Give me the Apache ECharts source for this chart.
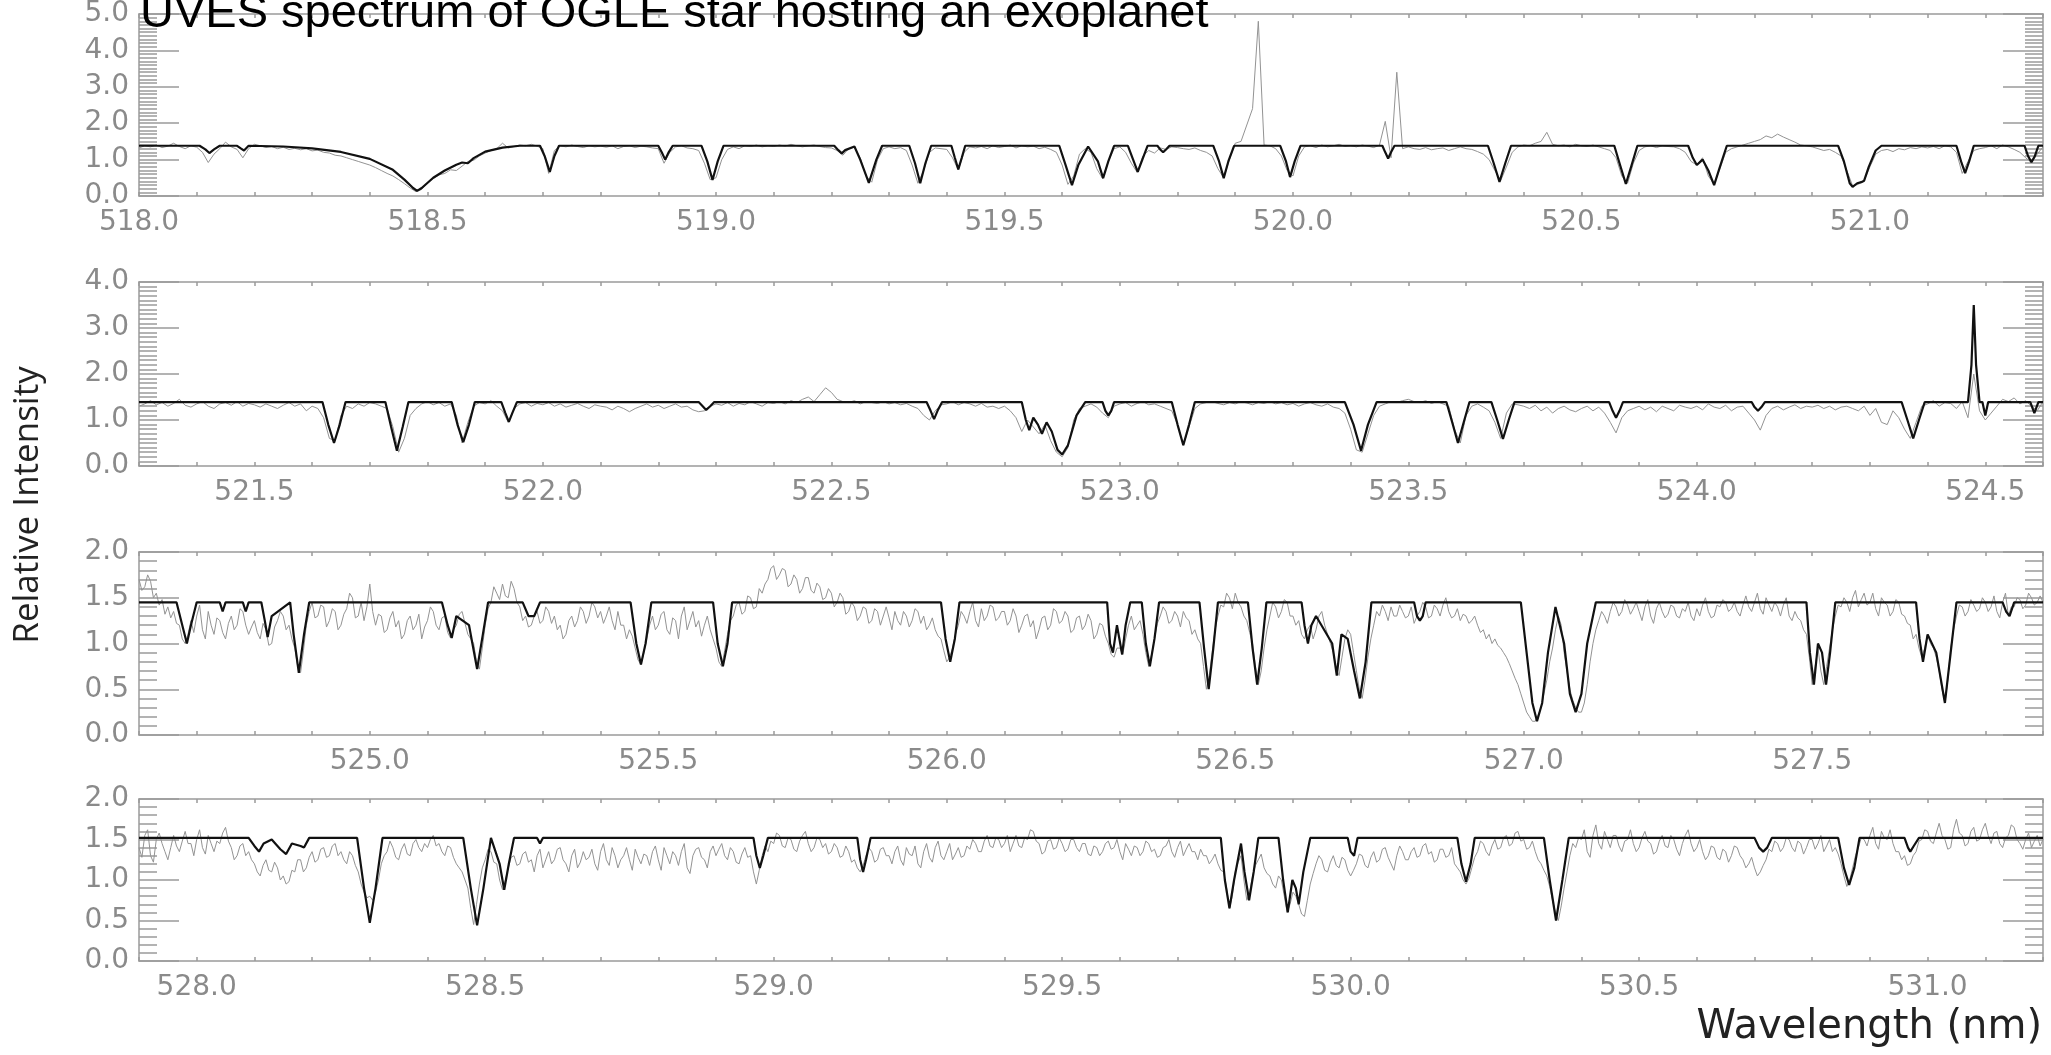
<!DOCTYPE html>
<html><head><meta charset="utf-8">
<script src="https://cdn.jsdelivr.net/npm/echarts@6/dist/echarts.min.js"></script>
<style>html,body{margin:0;padding:0;background:#fff}#c{width:2051px;height:1055px}</style>
</head><body><div id="c"></div>
<script>
const TITLE = 'UVES spectrum of OGLE star hosting an exoplanet';
const Y_NAME = 'Relative Intensity';
const X_NAME = 'Wavelength (nm)';
const X_RANGES = [[518.0,521.3],[521.3,524.6],[524.6,527.9],[527.9,531.2]];
const Y_MAX = [5,4,2,2];
const Y_INTERVAL = [1,1,0.5,0.5];
const OBS_STEPS = [0.01,0.01,0.005,0.005];

const OBS1 = [
1.32,1.38,1.35,1.40,1.33,1.37,1.45,1.36,1.30,1.38,
1.34,1.20,0.92,1.15,1.30,1.48,1.35,1.28,1.05,1.30,
1.42,1.38,1.33,1.36,1.30,1.34,1.28,1.31,1.27,1.30,
1.24,1.26,1.20,1.18,1.12,1.10,1.05,1.00,0.95,0.90,
0.85,0.78,0.70,0.62,0.55,0.45,0.34,0.22,0.12,0.18,
0.35,0.48,0.58,0.62,0.72,0.70,0.82,0.95,0.98,1.10,
1.18,1.25,1.30,1.45,1.32,1.36,1.40,1.38,1.42,1.37,
1.30,0.62,1.25,1.38,1.35,1.40,1.36,1.33,1.38,1.35,
1.37,1.34,1.38,1.30,1.36,1.38,1.33,1.37,1.35,1.32,
1.30,0.90,1.20,1.35,1.38,1.32,1.30,1.25,0.90,0.45,
0.50,1.00,1.28,1.35,1.30,1.38,1.36,1.40,1.35,1.38,
1.36,1.40,1.37,1.42,1.38,1.35,1.38,1.40,1.36,1.33,
1.32,1.25,1.12,1.30,1.34,1.05,0.55,0.38,1.00,1.30,
1.35,1.30,1.33,1.25,0.85,0.35,0.70,1.20,1.32,1.30,
1.28,1.05,0.72,1.20,1.35,1.32,1.36,1.30,1.38,1.33,
1.36,1.40,1.32,1.38,1.35,1.37,1.30,1.34,1.28,1.20,
0.85,0.32,0.55,1.15,1.30,1.20,0.75,0.48,0.95,1.30,
1.35,1.20,0.90,0.65,1.10,1.25,1.18,1.32,1.28,1.35,
1.33,1.30,1.28,1.32,1.25,1.20,1.10,0.75,0.50,1.00,
1.45,1.50,1.95,2.40,4.80,1.40,1.38,1.30,1.10,0.70,
0.55,1.10,1.35,1.38,1.33,1.40,1.35,1.38,1.42,1.36,
1.38,1.35,1.40,1.37,1.33,1.40,2.05,1.05,3.40,1.30,
1.35,1.30,1.28,1.33,1.27,1.30,1.32,1.25,1.30,1.35,
1.30,1.28,1.22,1.15,1.00,0.70,0.42,0.80,1.20,1.35,
1.40,1.38,1.45,1.50,1.75,1.42,1.38,1.40,1.35,1.42,
1.38,1.36,1.40,1.35,1.30,1.25,1.05,0.55,0.35,0.90,
1.25,1.35,1.38,1.33,1.38,1.36,1.35,1.30,1.20,0.95,
0.85,1.05,0.55,0.32,0.75,1.20,1.30,1.35,1.40,1.45,
1.50,1.55,1.65,1.60,1.70,1.62,1.55,1.48,1.40,1.38,
1.35,1.30,1.25,1.28,1.20,1.10,0.70,0.28,0.32,0.42,
0.80,1.15,1.25,1.28,1.22,1.30,1.27,1.33,1.30,1.35,
1.32,1.36,1.30,1.38,1.35,1.20,0.62,0.95,1.25,1.30,
1.33,1.38,1.30,1.40,1.35,1.28,1.20,1.05,0.92,1.15,
1.35];

const OBS2 = [
1.30,1.35,1.42,1.33,1.38,1.30,1.36,1.45,1.32,1.28,
1.35,1.40,1.30,1.25,1.35,1.38,1.32,1.40,1.30,1.36,
1.33,1.28,1.35,1.30,1.25,1.32,1.38,1.30,1.35,1.20,
1.30,1.25,1.05,0.60,0.55,1.10,1.30,1.25,1.35,1.30,
1.38,1.35,1.30,1.25,0.85,0.30,0.60,1.10,1.25,1.35,
1.40,1.33,1.38,1.30,1.35,1.10,0.50,0.95,1.30,1.38,
1.35,1.42,1.30,1.20,0.95,1.25,1.35,1.38,1.30,1.36,
1.33,1.38,1.30,1.35,1.28,1.32,1.36,1.30,1.25,1.33,
1.30,1.28,1.22,1.30,1.25,1.18,1.25,1.30,1.35,1.28,
1.32,1.25,1.30,1.35,1.28,1.30,1.22,1.18,1.20,1.30,
1.35,1.32,1.38,1.30,1.36,1.33,1.40,1.35,1.30,1.38,
1.36,1.40,1.35,1.42,1.38,1.45,1.50,1.40,1.55,1.70,
1.60,1.45,1.40,1.38,1.42,1.35,1.40,1.38,1.36,1.40,
1.35,1.38,1.33,1.36,1.30,1.25,1.10,1.00,1.20,1.33,
1.35,1.40,1.33,1.38,1.35,1.30,1.36,1.28,1.30,1.25,
1.30,1.20,1.05,0.75,1.00,0.85,0.70,0.90,0.55,0.30,
0.20,0.40,1.00,1.25,1.30,1.35,1.28,1.15,1.05,1.30,
1.35,1.38,1.30,1.36,1.40,1.33,1.35,1.30,1.25,1.20,
0.90,0.45,0.85,1.25,1.35,1.38,1.40,1.36,1.33,1.38,
1.35,1.40,1.37,1.33,1.38,1.36,1.40,1.35,1.38,1.33,
1.36,1.30,1.35,1.38,1.33,1.30,1.35,1.28,1.25,1.15,
0.80,0.35,0.30,0.70,1.10,1.30,1.35,1.40,1.38,1.42,
1.45,1.40,1.38,1.42,1.36,1.40,1.35,1.30,0.80,0.50,
1.10,1.30,1.35,1.28,1.20,0.95,0.60,1.15,1.35,1.33,
1.30,1.25,1.32,1.20,1.28,1.15,1.25,1.30,1.22,1.18,
1.25,1.30,1.20,1.28,1.15,0.95,0.72,1.05,1.20,1.25,
1.30,1.22,1.28,1.18,1.30,1.25,1.20,1.32,1.28,1.25,
1.30,1.22,1.35,1.28,1.25,1.32,1.20,1.28,1.30,1.15,
1.00,0.78,1.10,1.25,1.30,1.22,1.28,1.33,1.25,1.30,
1.28,1.32,1.25,1.30,1.22,1.28,1.30,1.25,1.20,1.30,
1.10,1.25,0.95,0.90,1.20,1.05,0.80,0.60,0.95,1.30,
1.35,1.42,1.30,1.38,1.36,1.25,1.40,1.05,2.00,1.20,
1.00,1.15,1.30,1.45,1.40,1.48,1.35,1.42,1.30,1.20,
1.40];

const OBS3 = [
1.70,1.58,1.62,1.75,1.68,1.50,1.55,1.42,1.48,1.32,1.40,1.28,1.35,1.22,1.20,1.05,1.00,1.10,1.25,1.12,
1.30,1.42,1.15,1.05,1.35,1.20,1.10,1.28,1.25,1.12,1.05,1.22,1.30,1.15,1.20,1.38,1.35,1.20,1.10,1.18,
1.25,1.12,1.05,1.22,1.15,0.98,1.00,1.18,1.25,1.35,1.30,1.15,1.20,1.05,0.95,0.75,0.68,0.92,1.20,1.35,
1.45,1.28,1.30,1.42,1.40,1.18,1.25,1.38,1.35,1.15,1.20,1.32,1.38,1.55,1.50,1.28,1.30,1.45,1.25,1.40,
1.65,1.35,1.20,1.32,1.30,1.12,1.15,1.28,1.35,1.18,1.25,1.05,1.10,1.25,1.30,1.15,1.20,1.32,1.05,1.18,
1.25,1.40,1.35,1.20,1.15,1.28,1.30,1.12,1.06,1.15,1.20,1.32,1.35,1.22,1.10,1.05,1.00,0.80,0.72,0.95,
1.20,1.38,1.45,1.62,1.55,1.48,1.65,1.52,1.50,1.68,1.60,1.45,1.40,1.25,1.30,1.18,1.20,1.30,1.35,1.22,
1.25,1.40,1.35,1.22,1.30,1.15,1.20,1.05,1.10,1.25,1.30,1.18,1.25,1.40,1.35,1.22,1.30,1.45,1.40,1.28,
1.35,1.22,1.30,1.40,1.25,1.15,1.35,1.20,1.20,1.05,1.15,1.08,0.95,0.82,0.77,0.90,1.05,1.20,1.30,1.15,
1.20,1.32,1.35,1.15,1.10,1.28,1.25,1.05,1.30,1.40,1.15,1.25,1.35,1.18,1.25,1.08,1.20,1.30,1.15,1.05,
0.95,0.80,0.75,0.92,1.10,1.25,1.30,1.42,1.45,1.32,1.35,1.52,1.50,1.38,1.40,1.60,1.55,1.65,1.70,1.82,
1.85,1.70,1.75,1.82,1.80,1.62,1.65,1.75,1.70,1.55,1.60,1.72,1.72,1.58,1.55,1.66,1.62,1.48,1.50,1.60,
1.55,1.40,1.45,1.55,1.50,1.32,1.35,1.45,1.40,1.25,1.30,1.40,1.38,1.22,1.25,1.38,1.35,1.20,1.30,1.40,
1.28,1.15,1.35,1.25,1.20,1.35,1.30,1.18,1.25,1.38,1.35,1.22,1.30,1.15,1.20,1.28,1.15,1.08,1.05,0.92,
0.80,0.85,0.95,1.10,1.20,1.35,1.30,1.22,1.35,1.45,1.25,1.18,1.38,1.25,1.30,1.42,1.40,1.25,1.28,1.35,
1.35,1.20,1.25,1.38,1.30,1.12,1.20,1.30,1.32,1.18,1.25,1.05,1.15,1.28,1.30,1.15,1.20,1.38,1.35,1.22,
1.25,1.35,1.30,1.12,1.15,1.28,1.30,1.15,1.20,1.32,1.25,1.05,1.10,1.22,1.20,1.08,1.00,0.88,0.85,0.95,
0.95,0.88,1.05,1.20,1.30,1.15,1.20,1.25,1.10,0.90,0.75,0.88,1.05,1.22,1.30,1.40,1.35,1.22,1.25,1.35,
1.30,1.18,1.35,1.28,1.25,1.10,1.15,1.05,1.00,0.75,0.50,0.65,0.90,1.15,1.30,1.42,1.40,1.55,1.50,1.38,
1.55,1.45,1.40,1.30,1.25,1.12,1.00,0.75,0.55,0.70,0.95,1.15,1.30,1.45,1.40,1.28,1.35,1.48,1.45,1.30,
1.30,1.20,1.25,1.10,1.05,1.15,1.20,1.05,1.15,1.30,1.35,1.20,1.10,1.00,0.90,0.72,0.65,0.85,1.05,1.15,
1.10,0.90,0.70,0.50,0.40,0.60,0.85,1.05,1.20,1.35,1.30,1.42,1.35,1.25,1.40,1.30,1.30,1.42,1.35,1.28,
1.30,1.40,1.22,1.30,1.35,1.45,1.40,1.28,1.30,1.42,1.38,1.30,1.42,1.50,1.35,1.28,1.30,1.38,1.25,1.32,
1.30,1.22,1.25,1.30,1.20,1.12,1.15,1.05,1.10,1.00,1.05,0.98,0.95,0.90,0.85,0.78,0.70,0.62,0.55,0.45,
0.35,0.25,0.20,0.15,0.15,0.22,0.30,0.45,0.60,0.80,0.95,1.15,1.30,1.20,0.90,0.70,0.50,0.38,0.30,0.25,
0.25,0.35,0.55,0.80,1.00,1.15,1.25,1.35,1.30,1.22,1.35,1.45,1.40,1.30,1.35,1.48,1.42,1.32,1.38,1.45,
1.35,1.25,1.40,1.48,1.30,1.22,1.38,1.45,1.35,1.28,1.32,1.42,1.40,1.30,1.28,1.38,1.35,1.45,1.30,1.25,
1.38,1.30,1.42,1.50,1.35,1.28,1.30,1.42,1.40,1.48,1.45,1.35,1.38,1.45,1.35,1.30,1.42,1.52,1.40,1.35,
1.45,1.55,1.38,1.32,1.50,1.42,1.35,1.45,1.40,1.30,1.42,1.50,1.30,1.25,1.35,1.28,1.25,1.15,1.10,0.85,
0.55,0.75,0.95,0.70,0.55,0.75,0.95,1.15,1.30,1.42,1.40,1.50,1.45,1.35,1.50,1.58,1.40,1.48,1.55,1.42,
1.45,1.55,1.38,1.30,1.50,1.45,1.42,1.30,1.35,1.48,1.45,1.32,1.30,1.22,1.20,1.05,1.10,0.95,0.85,0.95,
1.10,1.00,0.95,0.85,0.70,0.50,0.35,0.60,0.95,1.15,1.30,1.42,1.40,1.30,1.35,1.48,1.42,1.35,1.38,1.50,
1.45,1.35,1.40,1.52,1.35,1.28,1.45,1.55,1.30,1.40,1.40,1.50,1.48,1.38,1.42,1.55,1.50,1.42,1.45,1.52,
1.45];

const OBS4 = [
1.40,1.28,1.55,1.62,1.30,1.22,1.50,1.58,1.45,1.35,1.25,1.40,1.55,1.42,1.35,1.48,1.60,1.45,1.45,1.30,
1.50,1.62,1.40,1.32,1.55,1.45,1.35,1.48,1.45,1.58,1.65,1.48,1.40,1.25,1.30,1.42,1.45,1.30,1.35,1.25,
1.20,1.10,1.05,1.18,1.25,1.12,1.10,1.22,1.15,1.00,1.05,0.95,0.98,1.12,1.10,1.25,1.25,1.10,1.15,1.28,
1.35,1.22,1.25,1.38,1.40,1.28,1.30,1.42,1.45,1.30,1.35,1.25,1.20,1.35,1.30,1.18,1.10,0.95,0.85,0.78,
0.80,0.75,0.85,1.00,1.20,1.30,1.35,1.48,1.40,1.28,1.25,1.38,1.45,1.32,1.30,1.45,1.50,1.40,1.35,1.45,
1.40,1.50,1.55,1.42,1.45,1.35,1.30,1.42,1.40,1.28,1.20,1.15,1.10,1.00,0.90,0.65,0.45,0.70,0.95,1.15,
1.25,1.38,1.35,1.22,1.20,1.00,0.88,1.00,1.15,1.28,1.30,1.18,1.20,1.32,1.35,1.22,1.25,1.10,1.30,1.38,
1.15,1.25,1.35,1.20,1.25,1.38,1.40,1.25,1.20,1.10,1.30,1.38,1.15,1.22,1.35,1.25,1.28,1.38,1.20,1.12,
1.35,1.45,1.25,1.18,1.40,1.30,1.15,1.25,1.30,1.40,1.25,1.12,1.38,1.28,1.20,1.32,1.30,1.18,1.35,1.42,
1.25,1.12,1.40,1.30,1.20,1.35,1.30,1.18,1.35,1.45,1.15,1.08,1.30,1.38,1.40,1.28,1.25,1.15,1.35,1.42,
1.30,1.38,1.45,1.30,1.25,1.40,1.35,1.22,1.20,1.32,1.40,1.28,1.30,1.10,0.95,1.12,1.30,1.42,1.35,1.48,
1.45,1.58,1.55,1.42,1.40,1.52,1.50,1.38,1.35,1.48,1.55,1.60,1.45,1.35,1.40,1.52,1.50,1.40,1.45,1.32,
1.35,1.45,1.40,1.28,1.30,1.42,1.35,1.22,1.25,1.15,1.10,1.18,1.30,1.40,1.35,1.22,1.25,1.38,1.40,1.30,
1.30,1.20,1.35,1.42,1.25,1.18,1.40,1.32,1.30,1.42,1.20,1.15,1.35,1.45,1.28,1.22,1.40,1.48,1.30,1.25,
1.35,1.45,1.25,1.32,1.40,1.28,1.30,1.42,1.38,1.50,1.45,1.35,1.35,1.48,1.55,1.42,1.40,1.52,1.50,1.40,
1.45,1.55,1.35,1.45,1.55,1.42,1.40,1.52,1.50,1.62,1.60,1.48,1.45,1.32,1.35,1.48,1.50,1.38,1.40,1.52,
1.45,1.35,1.38,1.50,1.50,1.40,1.35,1.45,1.45,1.32,1.30,1.42,1.40,1.30,1.35,1.45,1.48,1.38,1.40,1.50,
1.35,1.25,1.45,1.38,1.30,1.42,1.40,1.30,1.35,1.48,1.45,1.35,1.38,1.28,1.30,1.40,1.42,1.50,1.35,1.28,
1.40,1.48,1.30,1.38,1.45,1.35,1.35,1.25,1.38,1.30,1.30,1.20,1.25,1.32,1.20,1.12,1.10,0.90,0.65,0.80,
1.10,1.22,1.30,1.00,0.75,0.85,1.05,1.18,1.25,1.32,1.15,1.08,1.05,0.95,0.90,1.05,1.00,0.80,0.60,0.70,
0.85,0.80,0.70,0.58,0.55,0.75,0.95,1.08,1.20,1.30,1.25,1.12,1.10,1.22,1.30,1.18,1.15,1.28,1.25,1.12,
1.05,1.12,1.20,1.32,1.30,1.18,1.15,1.28,1.35,1.22,1.25,1.38,1.40,1.28,1.20,1.12,1.30,1.42,1.35,1.25,
1.25,1.35,1.40,1.28,1.30,1.42,1.45,1.32,1.35,1.22,1.25,1.38,1.38,1.28,1.30,1.40,1.20,1.15,1.10,1.00,
0.95,1.02,1.15,1.28,1.35,1.48,1.45,1.35,1.30,1.42,1.50,1.38,1.40,1.52,1.55,1.42,1.45,1.58,1.60,1.48,
1.50,1.38,1.40,1.48,1.35,1.25,1.20,1.12,1.05,0.92,0.75,0.60,0.50,0.68,0.90,1.10,1.30,1.45,1.40,1.52,
1.50,1.62,1.35,1.28,1.55,1.68,1.45,1.38,1.60,1.50,1.40,1.55,1.55,1.42,1.35,1.48,1.50,1.62,1.45,1.35,
1.40,1.52,1.60,1.48,1.45,1.32,1.35,1.48,1.55,1.42,1.40,1.55,1.50,1.38,1.30,1.45,1.55,1.62,1.45,1.35,
1.40,1.50,1.35,1.25,1.30,1.42,1.40,1.28,1.25,1.38,1.35,1.22,1.30,1.42,1.40,1.30,1.25,1.15,1.20,1.28,
1.15,1.05,1.10,1.18,1.25,1.38,1.35,1.48,1.45,1.35,1.40,1.52,1.50,1.40,1.35,1.48,1.45,1.32,1.40,1.50,
1.50,1.38,1.45,1.55,1.35,1.42,1.50,1.35,1.40,1.32,1.20,1.05,0.92,1.00,1.15,1.30,1.40,1.52,1.50,1.42,
1.55,1.65,1.45,1.38,1.60,1.52,1.50,1.62,1.45,1.35,1.35,1.25,1.30,1.18,1.20,1.30,1.35,1.48,1.50,1.62,
1.60,1.48,1.45,1.58,1.70,1.55,1.50,1.38,1.40,1.62,1.75,1.58,1.55,1.42,1.45,1.60,1.65,1.48,1.50,1.62,
1.70,1.55,1.45,1.58,1.60,1.45,1.40,1.52,1.55,1.68,1.65,1.50,1.45,1.38,1.50,1.58,1.40,1.48,1.55,1.42,
1.50];

const MODEL1 = [
[518.00,1.38],[518.105,1.38],[518.115,1.28],[518.122,1.18],[518.13,1.28],[518.14,1.38],[518.17,1.38],[518.177,1.30],[518.182,1.25],[518.19,1.38],
[518.25,1.36],[518.30,1.31],[518.35,1.21],[518.40,1.02],[518.44,0.72],[518.46,0.45],[518.475,0.22],[518.482,0.14],[518.49,0.22],[518.51,0.50],[518.53,0.70],[518.55,0.86],[518.56,0.92],[518.57,0.90],[518.58,1.04],[518.60,1.22],[518.63,1.33],[518.66,1.38],
[518.695,1.38],[518.703,1.10],[518.712,0.66],[518.72,1.10],[518.728,1.38],
[518.90,1.38],[518.906,1.20],[518.912,1.00],[518.918,1.20],[518.925,1.38],
[518.975,1.38],[518.985,0.95],[518.994,0.44],[519.003,0.95],[519.013,1.38],
[519.205,1.38],[519.212,1.26],[519.218,1.17],[519.224,1.26],[519.24,1.36],[519.25,1.0],[519.265,0.36],[519.278,1.0],[519.288,1.38],
[519.335,1.38],[519.345,0.9],[519.354,0.35],[519.363,0.9],[519.373,1.38],
[519.408,1.38],[519.414,1.05],[519.42,0.73],[519.426,1.05],[519.432,1.38],
[519.595,1.38],[519.606,0.85],[519.617,0.30],[519.628,0.85],[519.645,1.36],[519.662,0.95],[519.671,0.49],[519.68,0.95],[519.69,1.38],
[519.714,1.38],[519.723,1.0],[519.731,0.66],[519.739,1.0],[519.748,1.38],
[519.765,1.38],[519.77,1.28],[519.775,1.2],[519.78,1.28],[519.786,1.38],
[519.862,1.38],[519.872,0.95],[519.88,0.49],[519.888,0.95],[519.898,1.38],
[519.978,1.38],[519.988,0.95],[519.995,0.52],[520.003,0.95],[520.013,1.38],
[520.155,1.38],[520.16,1.2],[520.165,1.03],[520.17,1.2],[520.176,1.38],
[520.338,1.38],[520.348,0.9],[520.358,0.39],[520.368,0.9],[520.378,1.38],
[520.557,1.38],[520.567,0.85],[520.577,0.33],[520.587,0.85],[520.597,1.38],
[520.685,1.38],[520.693,1.05],[520.70,0.85],[520.71,1.0],[520.72,0.7],[520.73,0.30],[520.74,0.8],[520.752,1.38],
[520.945,1.38],[520.955,0.95],[520.965,0.35],[520.97,0.25],[520.978,0.35],[520.985,0.38],[520.99,0.42],[520.998,0.8],[521.01,1.25],[521.02,1.38],
[521.15,1.38],[521.158,0.95],[521.165,0.63],[521.172,0.95],[521.18,1.38],
[521.268,1.38],[521.274,1.1],[521.28,0.93],[521.286,1.1],[521.292,1.38],[521.30,1.38]];

const MODEL2 = [
[521.30,1.39],[521.618,1.39],[521.628,0.9],[521.638,0.50],[521.648,0.9],[521.658,1.39],
[521.727,1.39],[521.737,0.85],[521.747,0.33],[521.757,0.85],[521.767,1.39],
[521.842,1.39],[521.852,0.9],[521.862,0.52],[521.872,0.9],[521.882,1.39],
[521.928,1.39],[521.935,1.15],[521.941,0.96],[521.947,1.15],[521.955,1.39],
[522.27,1.39],[522.277,1.3],[522.283,1.22],[522.29,1.3],[522.297,1.39],
[522.665,1.39],[522.672,1.2],[522.678,1.02],[522.684,1.2],[522.692,1.39],
[522.83,1.39],[522.837,1.0],[522.843,0.78],[522.85,1.05],[522.858,0.9],[522.865,0.70],[522.873,0.95],[522.882,0.75],[522.892,0.35],[522.90,0.25],[522.91,0.45],[522.925,1.1],[522.94,1.39],
[522.97,1.39],[522.975,1.2],[522.98,1.1],[522.985,1.2],[522.99,1.39],
[523.09,1.39],[523.10,0.9],[523.11,0.45],[523.12,0.9],[523.13,1.39],
[523.39,1.39],[523.405,0.9],[523.418,0.33],[523.43,0.9],[523.445,1.39],
[523.566,1.39],[523.576,0.95],[523.586,0.50],[523.596,0.95],[523.606,1.39],
[523.644,1.39],[523.654,1.0],[523.664,0.59],[523.674,1.0],[523.684,1.39],
[523.848,1.39],[523.854,1.2],[523.86,1.05],[523.866,1.2],[523.872,1.39],
[524.095,1.39],[524.10,1.28],[524.106,1.2],[524.112,1.28],[524.118,1.39],
[524.355,1.39],[524.365,1.0],[524.375,0.60],[524.385,1.0],[524.395,1.39],
[524.47,1.39],[524.476,2.2],[524.48,3.5],[524.484,2.2],[524.49,1.39],
[524.495,1.39],[524.5,1.1],[524.505,1.39],
[524.578,1.39],[524.585,1.15],[524.592,1.39],[524.60,1.39]];

const MODEL3 = [
[524.60,1.45],[524.665,1.45],[524.675,1.2],[524.683,1.0],[524.69,1.2],[524.70,1.45],
[524.74,1.45],[524.745,1.35],[524.75,1.45],[524.78,1.45],[524.785,1.35],[524.79,1.45],
[524.812,1.45],[524.818,1.25],[524.823,1.07],[524.83,1.3],[524.862,1.45],[524.868,1.1],[524.877,0.68],[524.886,1.1],[524.895,1.45],
[525.125,1.45],[525.135,1.2],[525.142,1.06],[525.15,1.3],[525.172,1.2],[525.186,0.72],[525.196,1.1],[525.205,1.45],
[525.265,1.45],[525.275,1.3],[525.285,1.3],[525.295,1.45],
[525.452,1.45],[525.462,1.0],[525.47,0.77],[525.478,1.0],[525.488,1.45],
[525.595,1.45],[525.603,1.0],[525.612,0.75],[525.62,1.0],[525.628,1.45],
[525.99,1.45],[525.998,1.05],[526.006,0.8],[526.014,1.05],[526.022,1.45],
[526.278,1.45],[526.283,1.0],[526.288,0.9],[526.295,1.2],[526.304,0.88],[526.31,1.2],[526.318,1.45],
[526.338,1.45],[526.345,1.0],[526.352,0.75],[526.36,1.05],[526.368,1.45],
[526.438,1.45],[526.446,0.95],[526.454,0.5],[526.462,0.95],[526.47,1.45],
[526.522,1.45],[526.53,0.95],[526.538,0.55],[526.546,0.95],[526.554,1.45],
[526.615,1.45],[526.62,1.2],[526.626,1.0],[526.632,1.2],[526.64,1.3],[526.668,1.0],[526.676,0.65],[526.684,1.1],[526.695,1.05],[526.706,0.7],[526.716,0.40],[526.726,0.8],[526.736,1.45],
[526.81,1.45],[526.815,1.3],[526.82,1.25],[526.825,1.3],[526.83,1.45],
[526.995,1.45],[527.005,0.9],[527.015,0.35],[527.023,0.15],[527.032,0.35],[527.042,0.9],[527.055,1.4],[527.07,1.0],[527.08,0.45],[527.09,0.25],[527.1,0.45],[527.11,1.0],[527.125,1.45],
[527.49,1.45],[527.496,0.9],[527.503,0.55],[527.51,1.0],[527.517,0.9],[527.524,0.55],[527.531,0.9],[527.54,1.45],
[527.68,1.45],[527.686,1.05],[527.692,0.8],[527.70,1.1],[527.715,0.9],[527.73,0.35],[527.74,0.9],[527.75,1.45],
[527.83,1.45],[527.836,1.35],[527.842,1.3],[527.85,1.45],[527.90,1.45]];

const MODEL4 = [
[527.90,1.52],[528.09,1.52],[528.1,1.42],[528.108,1.35],[528.116,1.45],[528.13,1.5],[528.145,1.38],[528.155,1.32],[528.165,1.45],[528.18,1.42],[528.186,1.40],[528.195,1.52],
[528.278,1.52],[528.29,0.9],[528.30,0.47],[528.31,0.9],[528.322,1.52],
[528.462,1.52],[528.475,0.9],[528.486,0.44],[528.497,0.9],[528.51,1.52],[528.525,1.2],[528.533,0.88],[528.541,1.2],[528.55,1.52],
[528.59,1.52],[528.595,1.45],[528.6,1.52],
[528.965,1.52],[528.97,1.3],[528.976,1.15],[528.982,1.3],[528.99,1.52],
[529.145,1.52],[529.15,1.25],[529.155,1.1],[529.16,1.25],[529.168,1.52],
[529.775,1.52],[529.782,1.0],[529.79,0.65],[529.798,1.0],[529.81,1.45],[529.816,1.1],[529.824,0.75],[529.832,1.1],[529.84,1.52],
[529.875,1.52],[529.883,1.0],[529.891,0.6],[529.899,1.0],[529.905,0.9],[529.91,0.7],[529.918,1.1],[529.93,1.52],
[529.995,1.52],[530.0,1.35],[530.006,1.3],[530.012,1.52],
[530.185,1.52],[530.192,1.2],[530.2,0.98],[530.208,1.2],[530.215,1.52],
[530.335,1.52],[530.345,1.0],[530.356,0.5],[530.367,1.0],[530.378,1.52],
[530.70,1.52],[530.708,1.4],[530.715,1.35],[530.722,1.4],[530.73,1.52],
[530.845,1.52],[530.855,1.15],[530.864,0.94],[530.873,1.15],[530.882,1.52],
[530.96,1.52],[530.966,1.4],[530.97,1.35],[530.976,1.42],[530.985,1.52],
[531.20,1.52]];

const OBS = [OBS1, OBS2, OBS3, OBS4];
const MODELS = [MODEL1, MODEL2, MODEL3, MODEL4];

// layout (pixels)
const PLOT_LEFT = 139, PLOT_WIDTH = 1904;
const PANEL_TOPS = [13, 282, 552, 799];
const PANEL_HEIGHTS = [183, 184, 183, 162];

const AXIS_COLOR = '#9a9a9a';
const LABEL_COLOR = '#8a8a8a';
const LABEL_FONT = 'DejaVu Sans';
const LABEL_SIZE = 28;

const chart = echarts.init(document.getElementById('c'), null, {renderer: 'canvas'});

const grids = [], xAxes = [], yAxes = [], series = [];
const lineSty = {color: AXIS_COLOR, width: 1.5};
const isHalf = v => Math.abs(v * 2 - Math.round(v * 2)) < 1e-6;

for (let i = 0; i < 4; i++) {
  grids.push({left: PLOT_LEFT, width: PLOT_WIDTH, top: PANEL_TOPS[i], height: PANEL_HEIGHTS[i]});
  const [xmin, xmax] = X_RANGES[i];
  const xBase = {type: 'value', gridIndex: i, min: xmin, max: xmax, interval: 0.1,
    axisLine: {show: true, onZero: false, lineStyle: lineSty},
    axisTick: {show: true, inside: true, length: 4, lineStyle: lineSty},
    splitLine: {show: false}};
  xAxes.push(Object.assign({}, xBase, {position: 'bottom',
    axisLabel: {show: true, margin: 13, color: LABEL_COLOR, fontFamily: LABEL_FONT, fontSize: LABEL_SIZE,
      formatter: v => isHalf(v) ? v.toFixed(1) : ''}}));
  xAxes.push(Object.assign({}, xBase, {position: 'top', axisLabel: {show: false}}));
  const yInt = Y_INTERVAL[i];
  const yBase = {type: 'value', gridIndex: i, min: 0, max: Y_MAX[i], interval: yInt,
    axisLine: {show: true, onZero: false, lineStyle: lineSty},
    axisTick: {show: true, inside: true, length: 40, lineStyle: lineSty},
    minorTick: {show: true, splitNumber: Math.round(yInt / 0.1), length: 18, lineStyle: lineSty},
    splitLine: {show: false}, minorSplitLine: {show: false}};
  yAxes.push(Object.assign({}, yBase, {position: 'left',
    axisLabel: {show: true, margin: 10, color: LABEL_COLOR, fontFamily: LABEL_FONT, fontSize: LABEL_SIZE,
      formatter: v => v.toFixed(1)}}));
  yAxes.push(Object.assign({}, yBase, {position: 'right', axisLabel: {show: false}}));

  const step = OBS_STEPS[i];
  series.push({type: 'line', xAxisIndex: 2 * i, yAxisIndex: 2 * i,
    data: OBS[i].map((v, k) => [+(xmin + k * step).toFixed(4), v]),
    showSymbol: false, silent: true, lineStyle: {color: '#939393', width: 1}, z: 2});
  series.push({type: 'line', xAxisIndex: 2 * i, yAxisIndex: 2 * i,
    data: MODELS[i], showSymbol: false, silent: true,
    lineStyle: {color: '#111111', width: 2.2}, z: 3});
}

chart.setOption({
  animation: false,
  backgroundColor: '#ffffff',
  grid: grids, xAxis: xAxes, yAxis: yAxes, series: series,
  graphic: [
    {type: 'text', left: 140, top: -9, z: 10,
      style: {text: TITLE, fill: '#000', fontFamily: 'Liberation Sans', fontSize: 47}},
    {type: 'text', x: 28, y: 505, rotation: Math.PI / 2, z: 10,
      style: {text: Y_NAME, fill: '#222', fontFamily: 'Open Sans', fontSize: 35, align: 'center', verticalAlign: 'middle'}},
    {type: 'text', right: 9, top: 1008, z: 10,
      style: {text: X_NAME, fill: '#222', fontFamily: 'DejaVu Sans', fontSize: 40}}
  ]
});
</script>
</body></html>
